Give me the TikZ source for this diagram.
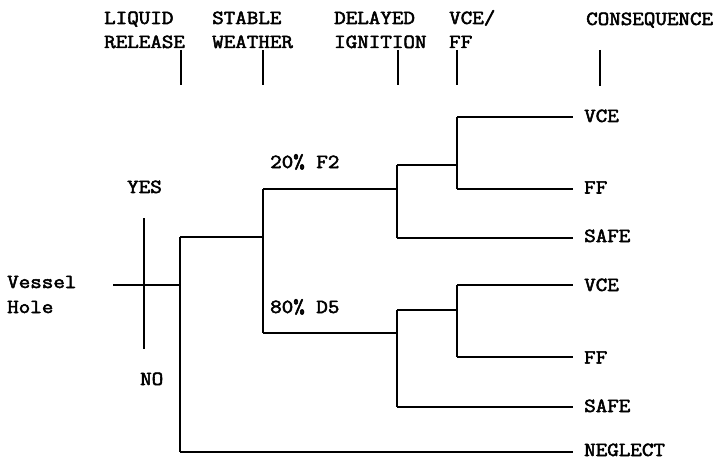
\documentclass[tikz,border=0pt]{standalone}
\usepackage{fontspec}
\usepackage{graphicx}
\newfontfamily\typewriter[FakeBold=2.5]{Latin Modern Mono}
\newcommand\T[1]{\scalebox{1.12}[1]{#1}}
\begin{document}
\begin{tikzpicture}[x=1pt,y=-1pt,
  lbl/.style={anchor=base west,inner sep=0pt,font=\typewriter\fontsize{20}{24}\selectfont},
  tree/.style={line width=1.6pt},
  tick/.style={line width=1.6pt}]
\useasboundingbox (0,0) rectangle (716,460);
% header labels
\node[lbl] (h1a) at (104,24) {\T{LIQUID}};
\node[lbl] (h1b) at (104,48) {\T{RELEASE}};
\node[lbl] (h2a) at (212,24) {\T{STABLE}};
\node[lbl] (h2b) at (212,48) {\T{WEATHER}};
\node[lbl] (h3a) at (334,24) {\T{DELAYED}};
\node[lbl] (h3b) at (334,48) {\T{IGNITION}};
\node[lbl] (h4a) at (449,24) {\T{VCE/}};
\node[lbl] (h4b) at (449,48) {\T{FF}};
\node[lbl] (h5) at (586,25) {\T{CONSEQUENCE}};
% ticks
\coordinate (t1a) at (181,50); \coordinate (t1b) at (181,85);
\coordinate (t2a) at (263,50); \coordinate (t2b) at (263,85);
\coordinate (t3a) at (398,50); \coordinate (t3b) at (398,85);
\coordinate (t4a) at (457,50); \coordinate (t4b) at (457,85);
\coordinate (t5a) at (600,50); \coordinate (t5b) at (600,86);
\draw[tick] (t1a) -- (t1b);
\draw[tick] (t2a) -- (t2b);
\draw[tick] (t3a) -- (t3b);
\draw[tick] (t4a) -- (t4b);
\draw[tick] (t5a) -- (t5b);
% other labels
\node[lbl] (vessel) at (7,288) {\T{Vessel}};
\node[lbl] (hole) at (7,313) {\T{Hole}};
\node[lbl] (yes) at (127,193) {\T{YES}};
\node[lbl] (no) at (140,385) {\T{NO}};
\node[lbl] (f2) at (270,168) {\T{20\% F2}};
\node[lbl] (d5) at (270,313) {\T{80\% D5}};
\node[lbl] (c1) at (584,122) {\T{VCE}};
\node[lbl] (c2) at (584,193.5) {\T{FF}};
\node[lbl] (c3) at (584,242) {\T{SAFE}};
\node[lbl] (c4) at (584,291) {\T{VCE}};
\node[lbl] (c5) at (584,363.5) {\T{FF}};
\node[lbl] (c6) at (584,412) {\T{SAFE}};
\node[lbl] (c7) at (584,456) {\T{NEGLECT}};
% tree junctions
\coordinate (root) at (113,285);
\coordinate (n1) at (180,285);
\coordinate (yesT) at (144,218); \coordinate (yesB) at (144,349);
\coordinate (n1y) at (180,237); \coordinate (n1n) at (180,452);
\coordinate (n2) at (263,237);
\coordinate (n2a) at (263,189); \coordinate (n2b) at (263,333);
\coordinate (d1) at (397,189); \coordinate (d1t) at (397,165); \coordinate (d1b) at (397,238);
\coordinate (v1) at (457,165); \coordinate (v1t) at (457,117); \coordinate (v1b) at (457,189);
\coordinate (d2) at (397,333); \coordinate (d2t) at (397,310); \coordinate (d2b) at (397,407);
\coordinate (v2) at (457,310); \coordinate (v2t) at (457,285); \coordinate (v2b) at (457,357);
\coordinate (e1) at (573,117); \coordinate (e2) at (573,189); \coordinate (e3) at (573,238);
\coordinate (e4) at (573,285); \coordinate (e5) at (573,357); \coordinate (e6) at (573,407);
\coordinate (e7) at (573,452);
% tree lines
\draw[tree] (root) -- (n1);
\draw[tree] (yesT) -- (yesB);
\draw[tree] (n1y) -- (n1n);
\draw[tree] (n1y) -- (n2);
\draw[tree] (n1n) -- (e7);
\draw[tree] (n2a) -- (n2b);
\draw[tree] (n2a) -- (d1);
\draw[tree] (n2b) -- (d2);
\draw[tree] (d1t) -- (d1b);
\draw[tree] (d1t) -- (v1);
\draw[tree] (v1t) -- (v1b);
\draw[tree] (v1t) -- (e1);
\draw[tree] (v1b) -- (e2);
\draw[tree] (d1b) -- (e3);
\draw[tree] (d2t) -- (d2b);
\draw[tree] (d2t) -- (v2);
\draw[tree] (v2t) -- (v2b);
\draw[tree] (v2t) -- (e4);
\draw[tree] (v2b) -- (e5);
\draw[tree] (d2b) -- (e6);
\end{tikzpicture}
\end{document}
